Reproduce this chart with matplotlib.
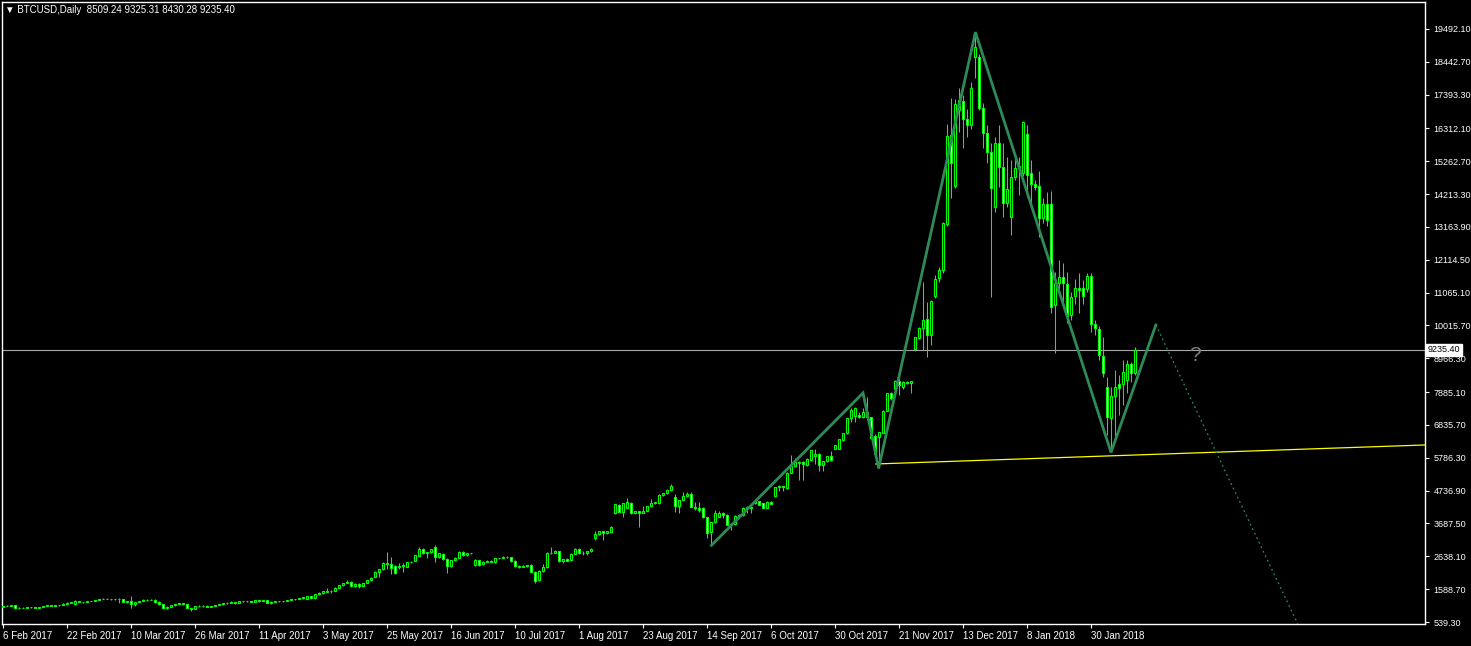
import numpy as np
import matplotlib.pyplot as plt
from matplotlib.transforms import blended_transform_factory

# ==================== BTCUSD Daily — MT4 style candle chart ====================

# OHLC per bar (one bar per trading day, 6 Feb 2017 -> 14 Feb 2018)
opens = [
    1015, 1045, 1060, 1075, 975, 1000, 995, 1005, 1010, 1000,
    1015, 1050, 1075, 1060, 1080, 1085, 1130, 1155, 1125, 1210,
    1180, 1175, 1210, 1215, 1240, 1280, 1290, 1270, 1265, 1275,
    1285, 1180, 1200, 1110, 1175, 1220, 1250, 1235, 1255, 1170,
    1100, 980, 1030, 1070, 1110, 1135, 1105, 985, 965, 1040,
    1040, 1060, 1020, 1050, 1080, 1100, 1135, 1160, 1185, 1140,
    1205, 1195, 1205, 1185, 1235, 1200, 1240, 1160, 1185, 1195,
    1205, 1210, 1240, 1260, 1275, 1295, 1275, 1370, 1300, 1430,
    1475, 1500, 1540, 1545, 1635, 1720, 1790, 1830, 1680, 1760,
    1700, 1790, 1880, 1990, 2150, 2230, 2440, 2400, 2330, 2290,
    2330, 2310, 2450, 2500, 2660, 2870, 2735, 2780, 2950, 2630,
    2710, 2540, 2340, 2520, 2600, 2765, 2670, 2730, 2370, 2520,
    2380, 2470, 2500, 2460, 2570, 2580, 2630, 2610, 2480, 2320,
    2300, 2330, 2360, 2150, 1870, 2180, 2300, 2740, 2760, 2800,
    2490, 2550, 2530, 2720, 2880, 2730, 2760, 2800, 3210, 3350,
    3440, 3380, 3430, 4010, 4280, 4070, 4180, 4340, 4020, 4090,
    4030, 4100, 4240, 4330, 4330, 4600, 4650, 4760, 4520, 4260,
    4440, 4570, 4630, 4230, 4170, 4190, 3880, 3400, 3740, 3900,
    4010, 3960, 3640, 3660, 3930, 3960, 4180, 4220, 4330, 4400,
    4330, 4190, 4380, 4560, 4860, 4880, 4810, 5310, 5520, 5610,
    5660, 5560, 5720, 5850, 5910, 5560, 5680, 5840, 6070, 6080,
    6360, 6570, 7050, 7120, 7150, 7085, 7250, 7080, 6500, 6460,
    6590, 7290, 7850, 8000, 8250, 8060, 8220, 8170, 9280, 9610,
    9926, 10220, 9710, 10970, 11520, 11790, 13260, 16100, 14490, 16900,
    17190, 16610, 16410, 18610, 18610, 16960, 16160, 15550, 13790, 15840,
    15090, 13940, 13490, 14770, 15040, 14900, 16130, 14900, 14530, 14480,
    13440, 13890, 13890, 10670, 11390, 11560, 11330, 10350, 10960, 11200,
    11200, 11180, 11610, 10060, 9900, 9050, 8060, 7050, 7760, 8150,
    8150, 8270, 8780, 8509.24,
]
highs = [
    1055, 1080, 1085, 1085, 1010, 1015, 1010, 1020, 1020, 1020,
    1060, 1085, 1085, 1085, 1095, 1140, 1165, 1175, 1245, 1225,
    1190, 1215, 1225, 1250, 1290, 1300, 1295, 1280, 1285, 1300,
    1290, 1215, 1370, 1190, 1225, 1260, 1265, 1260, 1265, 1200,
    1110, 1040, 1080, 1125, 1150, 1145, 1115, 1000, 1050, 1070,
    1085, 1075, 1060, 1090, 1110, 1140, 1190, 1195, 1190, 1215,
    1215, 1215, 1215, 1245, 1245, 1245, 1245, 1195, 1205, 1210,
    1215, 1245, 1270, 1285, 1305, 1335, 1375, 1385, 1445, 1490,
    1545, 1615, 1555, 1650, 1730, 1800, 1880, 1840, 1780, 1790,
    1800, 1890, 1970, 2160, 2230, 2450, 2790, 2610, 2350, 2415,
    2415, 2450, 2500, 2690, 2930, 2890, 2790, 2880, 3000, 2760,
    2740, 2580, 2530, 2630, 2800, 2800, 2740, 2760, 2540, 2530,
    2500, 2520, 2520, 2580, 2600, 2640, 2650, 2620, 2520, 2370,
    2350, 2370, 2380, 2160, 2200, 2390, 2780, 2930, 2830, 2810,
    2560, 2600, 2740, 2890, 2920, 2800, 2820, 2890, 3460, 3450,
    3450, 3450, 3600, 4320, 4300, 4340, 4490, 4370, 4100, 4100,
    4250, 4260, 4460, 4380, 4620, 4660, 4800, 4950, 4630, 4450,
    4680, 4680, 4690, 4390, 4360, 4220, 3900, 3750, 4120, 4090,
    4050, 3990, 3700, 3950, 4000, 4200, 4240, 4230, 4420, 4410,
    4340, 4400, 4420, 4870, 4920, 4900, 5320, 5880, 5770, 5700,
    5700, 5780, 6040, 6070, 5930, 5690, 5860, 6020, 6210, 6400,
    6580, 7060, 7370, 7420, 7260, 7370, 7740, 7100, 6560, 6620,
    7300, 7860, 7900, 8260, 8380, 8250, 8230, 8250, 9660, 9960,
    11400, 10780, 10840, 11630, 11890, 13330, 16460, 17280, 17260, 17600,
    17380, 16930, 17810, 19390, 18700, 17140, 16430, 15840, 16030, 16420,
    15840, 15410, 15300, 15360, 15410, 16560, 16420, 15300, 14670, 14950,
    14100, 14290, 14300, 11740, 12110, 12000, 11710, 11100, 11500, 11680,
    11470, 11700, 11700, 10200, 10000, 9660, 8380, 8060, 8590, 8430,
    8910, 8910, 8860, 9325.31,
]
lows = [
    1005, 1035, 1045, 955, 950, 985, 980, 975, 995, 990,
    1005, 1040, 1050, 1050, 1055, 1075, 1120, 1145, 1090, 1170,
    1160, 1165, 1195, 1205, 1230, 1265, 1260, 1255, 1255, 1160,
    1170, 1160, 975, 1060, 1165, 1215, 1225, 1230, 1160, 1080,
    960, 950, 1010, 1055, 1085, 1095, 975, 900, 950, 1030,
    1030, 1010, 1010, 1040, 1070, 1090, 1125, 1150, 1125, 1135,
    1180, 1180, 1170, 1180, 1185, 1195, 1150, 1130, 1165, 1185,
    1190, 1200, 1230, 1250, 1265, 1285, 1265, 1290, 1290, 1410,
    1440, 1490, 1455, 1530, 1620, 1700, 1770, 1665, 1650, 1620,
    1680, 1770, 1860, 1980, 1990, 2200, 2230, 2063, 2063, 2225,
    2150, 2290, 2420, 2480, 2640, 2700, 2600, 2760, 2470, 2600,
    2520, 2120, 2300, 2490, 2580, 2650, 2640, 2700, 2340, 2340,
    2360, 2450, 2450, 2440, 2540, 2570, 2600, 2460, 2300, 2280,
    2290, 2310, 2140, 1800, 1850, 2150, 2280, 2700, 2740, 2470,
    2440, 2480, 2500, 2700, 2700, 2680, 2680, 2780, 3160, 3320,
    3160, 3360, 3410, 3990, 4050, 3900, 4170, 4000, 3990, 3590,
    4020, 4080, 4220, 4310, 4320, 4580, 4620, 4740, 4070, 4010,
    4430, 4540, 4220, 4120, 4070, 3870, 3230, 2980, 3690, 3880,
    3875, 3630, 3480, 3640, 3870, 3940, 4010, 4010, 4320, 4270,
    4180, 4180, 4300, 4550, 4740, 4730, 4800, 5300, 5500, 5080,
    5080, 5540, 5700, 5590, 5380, 5380, 5660, 5700, 6060, 6070,
    6340, 6550, 6940, 6940, 7060, 7060, 7000, 6400, 5880, 5450,
    6570, 7280, 7630, 7990, 7800, 7980, 8160, 7870, 9210, 9600,
    9230, 9020, 9390, 10900, 11400, 11700, 13200, 14080, 14400, 16210,
    15700, 16030, 16300, 17920, 16900, 15680, 15220, 10940, 13650, 14450,
    13490, 13800, 12910, 14670, 14190, 14800, 14130, 13920, 14350, 12860,
    13300, 13200, 10400, 9130, 11100, 10620, 10100, 10200, 10700, 10400,
    10700, 11100, 9820, 9700, 8900, 8380, 6520, 5980, 6460, 7160,
    7480, 7850, 8200, 8430.28,
]
closes = [
    1045, 1060, 1070, 975, 1000, 995, 1005, 1010, 1000, 1015,
    1050, 1075, 1060, 1080, 1085, 1130, 1155, 1165, 1210, 1180,
    1175, 1210, 1215, 1240, 1280, 1290, 1270, 1265, 1275, 1285,
    1180, 1200, 1110, 1175, 1220, 1250, 1235, 1255, 1170, 1100,
    980, 1030, 1070, 1110, 1135, 1105, 985, 965, 1040, 1060,
    1060, 1020, 1050, 1080, 1100, 1135, 1160, 1185, 1160, 1205,
    1195, 1205, 1185, 1235, 1200, 1230, 1160, 1185, 1195, 1205,
    1210, 1240, 1260, 1275, 1295, 1325, 1365, 1300, 1430, 1475,
    1530, 1540, 1545, 1635, 1720, 1790, 1830, 1680, 1765, 1700,
    1790, 1880, 1955, 2150, 2220, 2440, 2400, 2280, 2095, 2330,
    2360, 2450, 2470, 2680, 2870, 2735, 2780, 2860, 2630, 2750,
    2540, 2340, 2520, 2600, 2790, 2670, 2730, 2750, 2520, 2360,
    2470, 2500, 2460, 2570, 2580, 2630, 2610, 2480, 2320, 2290,
    2330, 2360, 2150, 1860, 2180, 2300, 2740, 2760, 2800, 2490,
    2550, 2500, 2720, 2880, 2730, 2760, 2800, 2870, 3350, 3440,
    3380, 3440, 3570, 4300, 4070, 4330, 4360, 4020, 4090, 4020,
    4100, 4240, 4330, 4360, 4600, 4650, 4760, 4880, 4260, 4440,
    4570, 4630, 4230, 4170, 4110, 3880, 3380, 3740, 4010, 4010,
    3960, 3640, 3660, 3930, 3960, 4190, 4220, 4190, 4400, 4290,
    4190, 4380, 4320, 4860, 4880, 4840, 5310, 5520, 5660, 5660,
    5600, 5760, 6030, 5910, 5560, 5680, 5840, 5730, 6190, 6390,
    6570, 7050, 7315, 7370, 7085, 7260, 7100, 6420, 5900, 6600,
    7290, 7850, 7690, 8250, 8110, 8220, 8170, 8240, 9650, 9950,
    10192, 9710, 10800, 11490, 11790, 13280, 16070, 15200, 17090, 17220,
    16610, 16410, 17600, 18910, 16960, 16160, 15550, 14400, 15840, 15070,
    13920, 14370, 14750, 15040, 15100, 16530, 14830, 14530, 14450, 13440,
    13890, 13390, 10620, 11390, 11560, 11360, 10320, 10940, 11200, 11150,
    10960, 11610, 10060, 9930, 9070, 8510, 7080, 7760, 8040, 8030,
    8520, 8790, 8510, 9235.40,
]

# Date labels every 16 bars
date_labels = ['6 Feb 2017', '22 Feb 2017', '10 Mar 2017', '26 Mar 2017', '11 Apr 2017',
               '3 May 2017', '25 May 2017', '16 Jun 2017', '10 Jul 2017', '1 Aug 2017',
               '23 Aug 2017', '14 Sep 2017', '6 Oct 2017', '30 Oct 2017', '21 Nov 2017',
               '13 Dec 2017', '8 Jan 2018', '30 Jan 2018']
label_step = 16

# Price scale labels (MT4 rounds them)
price_ticks = [19492.10, 18442.70, 17393.30, 16312.10, 15262.70, 14213.30, 13163.90,
               12114.50, 11065.10, 10015.70, 8966.30, 7885.10, 6835.70, 5786.30,
               4736.90, 3687.50, 2638.10, 1588.70, 539.30]

# Drawn objects: zigzag pattern, projection, trend line, bid line
zigzag_bars = [177, 214.9, 218.8, 243, 276.9, 288.1]
zigzag_prices = [2990, 7860, 5450, 19390, 5960, 10030]
proj_bars = [288.1, 323.6]
proj_prices = [10030, 475]
trend_bars = [218.1, 356]
trend_prices = [5590, 6200]
bid_price = 9235.40

o = np.array(opens, dtype=float)
h = np.array(highs, dtype=float)
l = np.array(lows, dtype=float)
c = np.array(closes, dtype=float)
x = np.arange(len(c))
up = c >= o

plt.rcParams['font.family'] = ['Liberation Sans', 'DejaVu Sans']

fig = plt.figure(figsize=(14.71, 6.46), dpi=100, facecolor='black')
ax = fig.add_axes([2 / 1471, 22 / 646, 1423 / 1471, 622 / 646])
ax.set_facecolor('black')

lime = '#00ff00'
# wicks
ax.vlines(x, l, h, color=lime, linewidth=0.75, zorder=2)
# bodies: bull hollow (black), bear filled white
body_bottom = np.minimum(o, c)
body_height = np.abs(c - o)
ax.bar(x[up], body_height[up], bottom=body_bottom[up], width=0.5,
       facecolor='black', edgecolor=lime, linewidth=0.8, zorder=3)
ax.bar(x[~up], body_height[~up], bottom=body_bottom[~up], width=0.5,
       facecolor='white', edgecolor=lime, linewidth=0.8, zorder=3)

# bid line
ax.axhline(bid_price, color='#a8a8a8', linewidth=0.8, zorder=1)

# yellow trend line
ax.plot(trend_bars, trend_prices, color='#ffff00', linewidth=0.9, zorder=4)

# green zigzag + dotted projection
ax.plot(zigzag_bars, zigzag_prices, color='#2e8b57', linewidth=2.0, zorder=5,
        solid_joinstyle='miter')
ax.plot(proj_bars, proj_prices, color='#2e8b57', linewidth=0.9, linestyle=(0, (1.5, 2.5)), zorder=5)

ax.text(298, 9050, '?', color='#808080', fontsize=15, ha='center', va='center', zorder=6)

# axes limits
ax.set_xlim(-0.375, 355.4)
ax.set_ylim(475.4, 20355)

# frame
for sp in ax.spines.values():
    sp.set_color('white')
    sp.set_linewidth(1.0)

# right price scale
ax.yaxis.tick_right()
ax.set_yticks(price_ticks)
ax.set_yticklabels([f'{p:.2f}' for p in price_ticks])
ax.tick_params(axis='y', colors='white', labelcolor='white', labelsize=6.5, length=3, width=0.8, pad=3)

# bottom time scale
ax.set_xticks(np.arange(len(date_labels)) * label_step)
ax.set_xticklabels(date_labels)
ax.tick_params(axis='x', colors='white', labelcolor='white', labelsize=7, length=3, width=0.8, pad=2)
for t in ax.get_xticklabels():
    t.set_ha('left')

# bid price tag on the scale
tr = blended_transform_factory(ax.transAxes, ax.transData)
ax.annotate(f'{bid_price:.2f}', xy=(1.0, bid_price), xycoords=tr, xytext=(2, 0),
            textcoords='offset points', ha='left', va='center', fontsize=6.5, color='black',
            bbox=dict(boxstyle='square,pad=0.2', facecolor='white', edgecolor='white'),
            annotation_clip=False, zorder=10)

# header
fig.text(5 / 1471, 1 - 10 / 646, '\u25bc BTCUSD,Daily  8509.24 9325.31 8430.28 9235.40',
         color='white', fontsize=7, ha='left', va='center')

fig.savefig('out.png', dpi=100, facecolor='black')
